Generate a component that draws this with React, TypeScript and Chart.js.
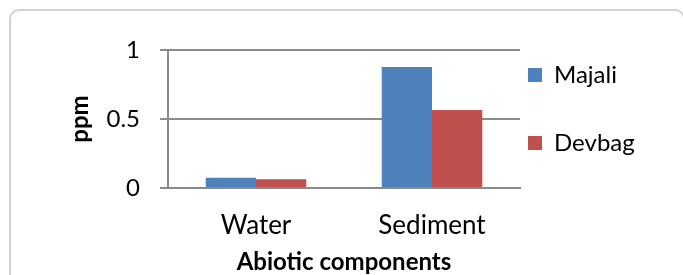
import React, { useEffect, useRef } from 'react';
import { Chart, registerables } from 'chart.js';

Chart.register(...registerables);

const categories = ['Water', 'Sediment'];
const seriesNames = ['Majali', 'Devbag'];
const majali = [0.075, 0.876];
const devbag = [0.063, 0.566];
const yTicks = [0, 0.5, 1];
const xTitle = 'Abiotic components';
const yTitle = 'ppm';

const FONT = 'Lato';
const GRID = '#8a8a8a';

const legendShift = {
  id: 'legendShift',
  afterLayout(chart: any) {
    const l = chart.legend;
    if (l) {
      l.top += 5;
      l.bottom += 5;
    }
  },
};

export default function App() {
  const ref = useRef<HTMLCanvasElement>(null);

  useEffect(() => {
    const canvas = ref.current!;
    const chart = new Chart(canvas, {
      type: 'bar',
      data: {
        labels: categories,
        datasets: [
          { label: seriesNames[0], data: majali, backgroundColor: '#4F81BD', borderWidth: 0 },
          { label: seriesNames[1], data: devbag, backgroundColor: '#C0504D', borderWidth: 0 },
        ],
      },
      options: {
        responsive: false,
        animation: false,
        devicePixelRatio: 1,
        layout: { padding: { left: 0, top: 50, right: 45, bottom: 0 } },
        datasets: { bar: { categoryPercentage: 2 / 3.5, barPercentage: 1 } },
        plugins: {
          legend: {
            position: 'right',
            align: 'start',
            maxWidth: 118,
            labels: {
              boxWidth: 14,
              boxHeight: 14,
              padding: 8,
              color: '#000',
              font: { family: FONT, size: 24, lineHeight: '60px' },
              generateLabels: (c: any) =>
                Chart.defaults.plugins.legend.labels
                  .generateLabels(c)
                  .map((it: any) => ({ ...it, text: [it.text], lineWidth: 0 })),
            },
          },
          tooltip: { enabled: false },
        },
        scales: {
          x: {
            grid: { display: false, drawTicks: false },
            border: { display: true, color: GRID, width: 2 },
            ticks: { color: '#000', font: { family: FONT, size: 26 }, padding: 22 },
            title: {
              display: true,
              text: xTitle,
              color: '#000',
              font: { family: FONT, size: 24, weight: 'bold' },
              padding: { top: 0, bottom: -2 },
            },
            afterFit: (s: any) => {
              s.height = 87;
            },
          },
          y: {
            min: 0,
            max: 1,
            afterBuildTicks: (s: any) => {
              s.ticks = yTicks.map((v) => ({ value: v }));
            },
            grid: { color: GRID, lineWidth: 2, tickLength: 8, drawTicks: true },
            border: { display: true, color: GRID, width: 2 },
            ticks: {
              color: '#000',
              font: { family: FONT, size: 24 },
              padding: 20,
              callback: (v: any) => String(v),
            },
            title: {
              display: true,
              text: yTitle,
              color: '#000',
              font: { family: FONT, size: 24, weight: 'bold' },
              padding: { top: 66, bottom: 0 },
            },
            afterFit: (s: any) => {
              s.width = 168;
            },
          },
        },
      } as any,
      plugins: [legendShift],
    });
    return () => chart.destroy();
  }, []);

  return (
    <div
      style={{
        position: 'fixed',
        left: 0,
        top: 0,
        width: 683,
        height: 275,
        overflow: 'hidden',
        background: '#fff',
      }}
    >
      <div
        style={{
          position: 'absolute',
          left: 9,
          top: 9,
          width: 672,
          height: 300,
          border: '2px solid #d2d2d2',
          borderRadius: 10,
        }}
      />
      <canvas
        ref={ref}
        width={683}
        height={275}
        style={{ position: 'absolute', left: 0, top: 0, width: 683, height: 275 }}
      />
    </div>
  );
}
